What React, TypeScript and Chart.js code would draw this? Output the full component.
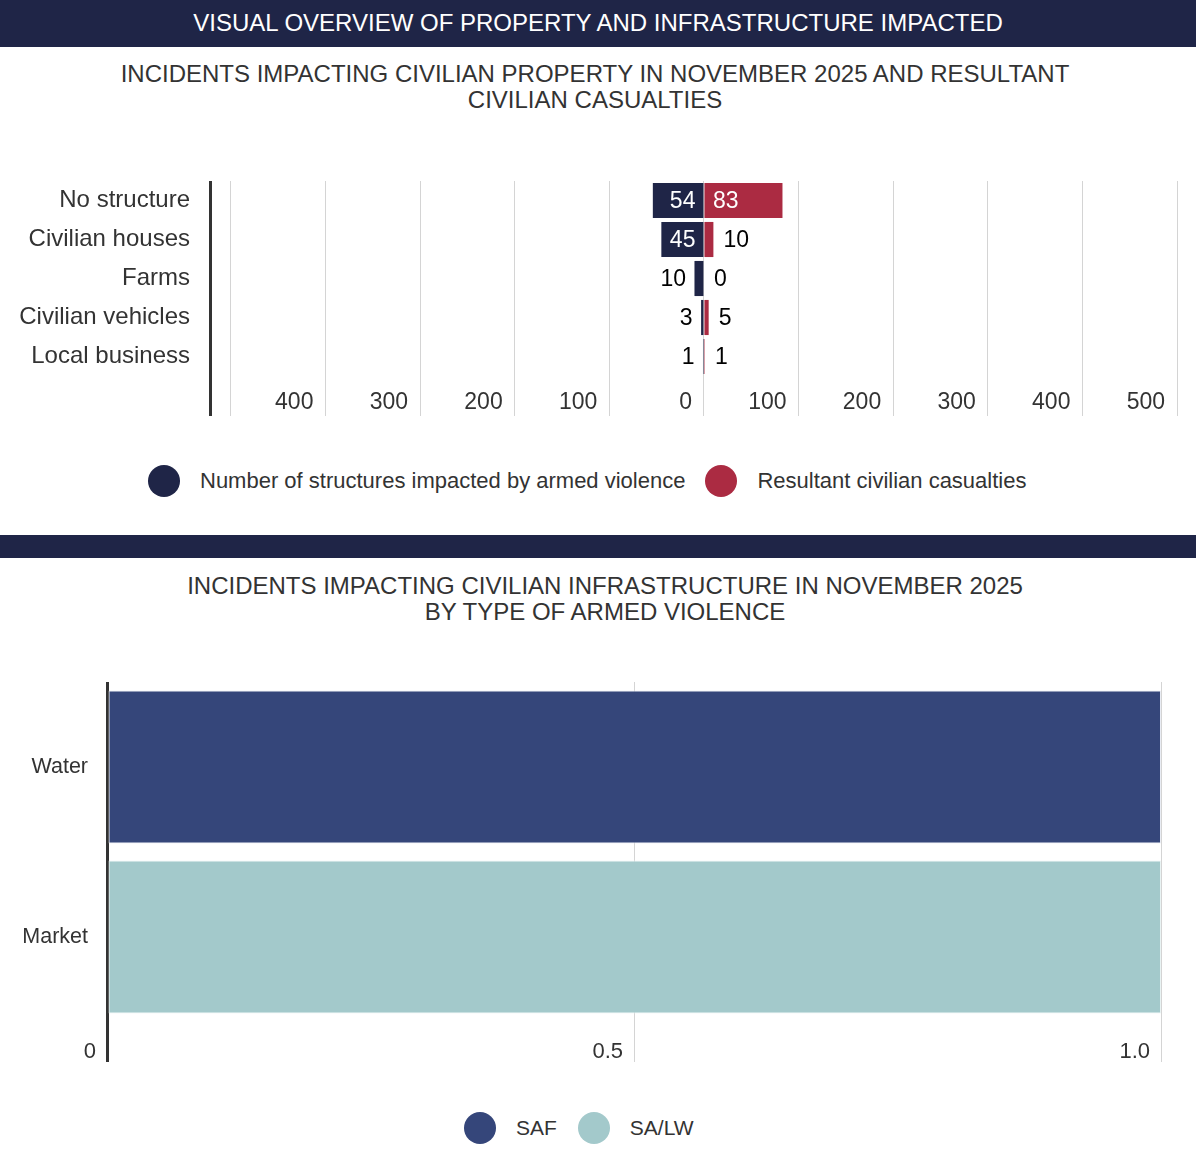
import React, { useEffect, useRef } from 'react';
import { Chart, registerables } from 'chart.js';

Chart.register(...registerables);

const FONT = '"Liberation Sans", Arial, Helvetica, sans-serif';
const NAVY = '#1f2547';
const RED = '#ab2b42';
const SAF_COLOR = '#35467a';
const SALW_COLOR = '#a3c9cb';
const GRID = '#d4d4d4';
const AXIS = '#333333';
const TEXT = '#333333';

// ---- Chart 1 data ----
const PROPERTY_CATEGORIES = ['No structure', 'Civilian houses', 'Farms', 'Civilian vehicles', 'Local business'];
const STRUCTURES_IMPACTED = [54, 45, 10, 3, 1];
const CIVILIAN_CASUALTIES = [83, 10, 0, 5, 1];
const PROPERTY_SERIES = ['Number of structures impacted by armed violence', 'Resultant civilian casualties'];
const PROPERTY_TICKS = [-500, -400, -300, -200, -100, 0, 100, 200, 300, 400, 500];
const PROPERTY_MIN = -522;
const PROPERTY_MAX = 501;

// ---- Chart 2 data ----
const INFRA_CATEGORIES = ['Water', 'Market'];
const SAF_VALUES = [1, 0];
const SALW_VALUES = [0, 1];
const INFRA_SERIES = ['SAF', 'SA/LW'];
const INFRA_TICKS = [0, 0.5, 1];
const INFRA_TICK_LABELS = ['0', '0.5', '1.0'];

const barLabelPlugin = {
  id: 'barLabels',
  afterDatasetsDraw(chart: any) {
    const ctx = chart.ctx;
    const xScale = chart.scales.x;
    const zero = xScale.getPixelForValue(0);
    ctx.save();
    ctx.font = `23px ${FONT}`;
    ctx.textBaseline = 'middle';
    chart.data.datasets.forEach((ds: any, di: number) => {
      const meta = chart.getDatasetMeta(di);
      meta.data.forEach((el: any, i: number) => {
        const v = ds.data[i];
        if (v === null || v === undefined) return;
        const text = String(Math.abs(v));
        const { y } = el.getProps(['y'], true);
        const end = xScale.getPixelForValue(v);
        const len = Math.abs(end - zero);
        const tw = ctx.measureText(text).width;
        const neg = v < 0 || (v === 0 && di === 0);
        let tx: number;
        let color: string;
        if (len > tw + 16) {
          tx = neg ? zero - 8.5 : zero + 9;
          color = '#ffffff';
        } else {
          tx = neg ? end - 8.5 : end + 10;
          color = '#000000';
        }
        ctx.textAlign = neg ? 'right' : 'left';
        ctx.fillStyle = color;
        ctx.fillText(text, tx, y + 1);
      });
    });
    ctx.restore();
  },
};

function zeroPadding(scale: any) {
  scale.paddingTop = 0;
  scale.paddingBottom = 0;
  scale.paddingLeft = 0;
  scale.paddingRight = 0;
}

function PropertyChart() {
  const ref = useRef<HTMLCanvasElement | null>(null);
  useEffect(() => {
    if (!ref.current) return;
    const chart = new Chart(ref.current, {
      type: 'bar',
      data: {
        labels: PROPERTY_CATEGORIES,
        datasets: [
          {
            label: PROPERTY_SERIES[0],
            data: STRUCTURES_IMPACTED.map((v) => -v),
            backgroundColor: NAVY,
            borderWidth: 0,
            inflateAmount: 0,
            barPercentage: 0.9,
            categoryPercentage: 1,
          },
          {
            label: PROPERTY_SERIES[1],
            data: CIVILIAN_CASUALTIES,
            backgroundColor: RED,
            borderWidth: 0,
            inflateAmount: 0,
            barPercentage: 0.9,
            categoryPercentage: 1,
          },
        ],
      } as any,
      options: {
        indexAxis: 'y',
        animation: false,
        responsive: true,
        maintainAspectRatio: false,
        layout: { padding: { top: 29, right: 18, bottom: 6, left: 0 } },
        plugins: { legend: { display: false }, tooltip: { enabled: false } },
        events: [],
        scales: {
          x: {
            type: 'linear',
            stacked: true,
            min: PROPERTY_MIN,
            max: PROPERTY_MAX,
            z: 1,
            afterBuildTicks: (scale: any) => {
              scale.ticks = [PROPERTY_MIN, ...PROPERTY_TICKS].map((v) => ({ value: v }));
            },
            afterFit: (scale: any) => {
              scale.height = 40;
              zeroPadding(scale);
            },
            border: { display: false },
            grid: {
              drawTicks: true,
              tickLength: 40,
              color: (c: any) => (c.tick && c.tick.value === PROPERTY_MIN ? AXIS : GRID),
              lineWidth: (c: any) => (c.tick && c.tick.value === PROPERTY_MIN ? 3 : 1),
            },
            ticks: {
              autoSkip: false,
              maxRotation: 0,
              align: 'end',
              labelOffset: -12,
              padding: -27,
              color: TEXT,
              font: { family: FONT, size: 23 },
              callback: (value: any) => (value <= -500 ? '' : String(Math.abs(value))),
            },
          },
          y: {
            stacked: true,
            afterFit: (scale: any) => {
              scale.width = 210;
              zeroPadding(scale);
            },
            border: { display: false },
            grid: { display: false, drawTicks: false },
            ticks: {
              padding: 20,
              color: TEXT,
              font: { family: FONT, size: 24 },
            },
          },
        },
      } as any,
      plugins: [barLabelPlugin],
    });
    return () => chart.destroy();
  }, []);
  return <canvas ref={ref} />;
}

function InfraChart() {
  const ref = useRef<HTMLCanvasElement | null>(null);
  useEffect(() => {
    if (!ref.current) return;
    const chart = new Chart(ref.current, {
      type: 'bar',
      data: {
        labels: INFRA_CATEGORIES,
        datasets: [
          {
            label: INFRA_SERIES[0],
            data: SAF_VALUES,
            backgroundColor: SAF_COLOR,
            borderColor: '#e9ecf3',
            borderWidth: (c: any) => ((c.raw ?? 0) > 0 ? 1 : 0),
            borderSkipped: false,
            inflateAmount: 0,
            barPercentage: 0.9,
            categoryPercentage: 1,
          },
          {
            label: INFRA_SERIES[1],
            data: SALW_VALUES,
            backgroundColor: SALW_COLOR,
            borderColor: '#e9f3f3',
            borderWidth: (c: any) => ((c.raw ?? 0) > 0 ? 1 : 0),
            borderSkipped: false,
            inflateAmount: 0,
            barPercentage: 0.9,
            categoryPercentage: 1,
          },
        ],
      } as any,
      options: {
        indexAxis: 'y',
        animation: false,
        responsive: true,
        maintainAspectRatio: false,
        layout: { padding: { top: 22, right: 35, bottom: 8, left: 0 } },
        plugins: { legend: { display: false }, tooltip: { enabled: false } },
        events: [],
        scales: {
          x: {
            type: 'linear',
            stacked: true,
            min: 0,
            max: 1,
            afterBuildTicks: (scale: any) => {
              scale.ticks = INFRA_TICKS.map((v) => ({ value: v }));
            },
            afterFit: (scale: any) => {
              scale.height = 40;
              zeroPadding(scale);
            },
            border: { display: false },
            grid: {
              drawTicks: true,
              tickLength: 40,
              color: (c: any) => (c.tick && c.tick.value === 0 ? AXIS : GRID),
              lineWidth: (c: any) => (c.tick && c.tick.value === 0 ? 3 : 1),
            },
            ticks: {
              autoSkip: false,
              maxRotation: 0,
              align: 'end',
              labelOffset: -11,
              padding: -23,
              color: TEXT,
              font: { family: FONT, size: 22 },
              callback: (value: any) => {
                const idx = INFRA_TICKS.indexOf(Number(value));
                return idx >= 0 ? INFRA_TICK_LABELS[idx] : '';
              },
            },
          },
          y: {
            stacked: true,
            afterFit: (scale: any) => {
              scale.width = 107;
              zeroPadding(scale);
            },
            border: { display: false },
            grid: { display: false, drawTicks: false },
            ticks: {
              padding: 19,
              color: TEXT,
              font: { family: FONT, size: 21.5 },
            },
          },
        },
      } as any,
    });
    return () => chart.destroy();
  }, []);
  return <canvas ref={ref} />;
}

function LegendItem({ color, label, gap }: { color: string; label: string; gap: number }) {
  return (
    <div style={{ display: 'flex', alignItems: 'center', marginRight: gap }}>
      <span
        style={{
          display: 'inline-block',
          width: 32,
          height: 32,
          borderRadius: '50%',
          background: color,
          marginRight: 20,
        }}
      />
      <span>{label}</span>
    </div>
  );
}

export default function App() {
  return (
    <div
      style={{
        position: 'relative',
        width: 1196,
        height: 1163,
        fontFamily: FONT,
        background: '#ffffff',
        overflow: 'hidden',
      }}
    >
      <style>{`body{margin:0;}`}</style>
      <div
        style={{
          position: 'absolute',
          top: 0,
          left: 0,
          width: 1196,
          height: 47,
          background: NAVY,
          color: '#ffffff',
          fontSize: 24,
          lineHeight: '45px',
          textAlign: 'center',
        }}
      >
        VISUAL OVERVIEW OF PROPERTY AND INFRASTRUCTURE IMPACTED
      </div>
      <div
        style={{
          position: 'absolute',
          top: 61,
          left: 0,
          width: 1190,
          fontSize: 24,
          lineHeight: '26px',
          textAlign: 'center',
          color: TEXT,
        }}
      >
        INCIDENTS IMPACTING CIVILIAN PROPERTY IN NOVEMBER 2025 AND RESULTANT
        <br />
        CIVILIAN CASUALTIES
      </div>
      <div style={{ position: 'absolute', top: 152, left: 0, width: 1196, height: 270 }}>
        <PropertyChart />
      </div>
      <div
        style={{
          position: 'absolute',
          top: 465,
          left: 148,
          height: 32,
          display: 'flex',
          alignItems: 'center',
          fontSize: 22,
          color: TEXT,
          whiteSpace: 'nowrap',
        }}
      >
        <LegendItem color={NAVY} label={PROPERTY_SERIES[0]} gap={20} />
        <LegendItem color={RED} label={PROPERTY_SERIES[1]} gap={0} />
      </div>
      <div style={{ position: 'absolute', top: 535, left: 0, width: 1196, height: 23, background: NAVY }} />
      <div
        style={{
          position: 'absolute',
          top: 573,
          left: 0,
          width: 1210,
          fontSize: 24,
          lineHeight: '26px',
          textAlign: 'center',
          color: TEXT,
        }}
      >
        INCIDENTS IMPACTING CIVILIAN INFRASTRUCTURE IN NOVEMBER 2025
        <br />
        BY TYPE OF ARMED VIOLENCE
      </div>
      <div style={{ position: 'absolute', top: 660, left: 0, width: 1196, height: 410 }}>
        <InfraChart />
      </div>
      <div
        style={{
          position: 'absolute',
          top: 1112,
          left: 464,
          height: 32,
          display: 'flex',
          alignItems: 'center',
          fontSize: 21,
          color: TEXT,
          whiteSpace: 'nowrap',
        }}
      >
        <LegendItem color={SAF_COLOR} label={INFRA_SERIES[0]} gap={21} />
        <LegendItem color={SALW_COLOR} label={INFRA_SERIES[1]} gap={0} />
      </div>
    </div>
  );
}
